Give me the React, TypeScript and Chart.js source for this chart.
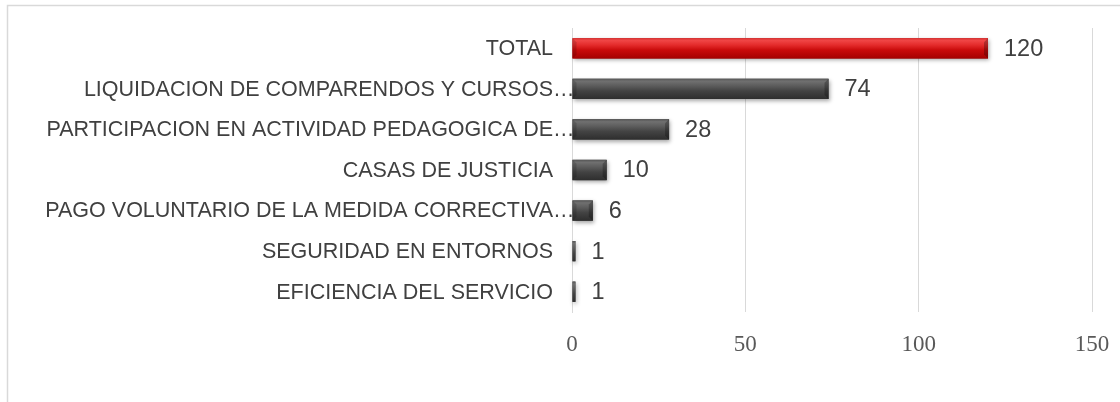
import { useEffect, useRef } from "react";
import { Chart, registerables } from "chart.js";
Chart.register(...registerables);

const categories = [
  "TOTAL",
  "LIQUIDACION DE COMPARENDOS Y CURSOS…",
  "PARTICIPACION EN ACTIVIDAD PEDAGOGICA DE…",
  "CASAS DE JUSTICIA",
  "PAGO VOLUNTARIO DE LA MEDIDA CORRECTIVA…",
  "SEGURIDAD EN ENTORNOS",
  "EFICIENCIA DEL SERVICIO",
];
const values = [120, 74, 28, 10, 6, 1, 1];
const barKinds = ["red", "dark", "dark", "dark", "dark", "dark", "dark"];
const xMin = 0;
const xMax = 150;
const xStep = 50;

const baseColors: Record<string, string> = { red: "#c00000", dark: "#404040" };
const gradStops: Record<string, [number, string][]> = {
  red: [
    [0, "#d83434"],
    [0.12, "#f04545"],
    [0.35, "#e32a2a"],
    [0.6, "#c80a0a"],
    [1, "#a50000"],
  ],
  dark: [
    [0, "#555555"],
    [0.12, "#707070"],
    [0.35, "#5c5c5c"],
    [0.6, "#434343"],
    [1, "#2e2e2e"],
  ],
};

const CAT_FONT = "21.5px 'Liberation Sans', Arial, sans-serif";
const VAL_FONT = "23.5px 'Liberation Sans', Arial, sans-serif";

const framePlugin = {
  id: "frame",
  beforeDraw(chart: any) {
    const ctx = chart.ctx;
    ctx.save();
    ctx.strokeStyle = "#d9d9d9";
    ctx.lineWidth = 1.5;
    ctx.beginPath();
    ctx.moveTo(7.5, chart.height);
    ctx.lineTo(7.5, 5.5);
    ctx.lineTo(chart.width, 5.5);
    ctx.stroke();
    ctx.restore();
  },
};

const barStylePlugin = {
  id: "barStyle",
  afterDatasetsDraw(chart: any) {
    const ctx = chart.ctx;
    const meta = chart.getDatasetMeta(0);
    meta.data.forEach((el: any, i: number) => {
      const { x, y, base, height } = el.getProps(["x", "y", "base", "height"], true);
      const left = Math.min(x, base);
      const w = Math.abs(x - base);
      const top = y - height / 2;
      const g = ctx.createLinearGradient(0, top, 0, top + height);
      gradStops[barKinds[i]].forEach(([o, c]) => g.addColorStop(o, c));
      ctx.save();
      ctx.shadowColor = "rgba(0,0,0,0.35)";
      ctx.shadowBlur = 4;
      ctx.shadowOffsetX = 1;
      ctx.shadowOffsetY = 2;
      ctx.fillStyle = g;
      ctx.fillRect(left, top, w, height);
      ctx.restore();
      if (w > 8) {
        ctx.save();
        ctx.fillStyle = "rgba(0,0,0,0.25)";
        ctx.beginPath();
        ctx.moveTo(left + w, top);
        ctx.lineTo(left + w - 4, top + 4);
        ctx.lineTo(left + w - 4, top + height - 4);
        ctx.lineTo(left + w, top + height);
        ctx.closePath();
        ctx.fill();
        ctx.beginPath();
        ctx.moveTo(left, top);
        ctx.lineTo(left + 4, top + 4);
        ctx.lineTo(left + 4, top + height - 4);
        ctx.lineTo(left, top + height);
        ctx.closePath();
        ctx.fillStyle = "rgba(0,0,0,0.15)";
        ctx.fill();
        ctx.restore();
      }
    });
  },
  afterDraw(chart: any) {
    const ctx = chart.ctx;
    const yScale = chart.scales.y;
    const meta = chart.getDatasetMeta(0);
    ctx.save();
    ctx.textBaseline = "middle";
    ctx.font = CAT_FONT;
    ctx.fillStyle = "#404040";
    const anchor = yScale.right - 19;
    categories.forEach((lab, i) => {
      const yy = yScale.getPixelForValue(i) + 1;
      if (lab.endsWith("…")) {
        const main = lab.slice(0, -1);
        ctx.textAlign = "right";
        ctx.fillText(main, anchor, yy);
        ctx.textAlign = "left";
        ctx.fillText("…", anchor, yy);
      } else {
        ctx.textAlign = "right";
        ctx.fillText(lab, anchor, yy);
      }
    });
    ctx.font = VAL_FONT;
    ctx.textAlign = "left";
    meta.data.forEach((el: any, i: number) => {
      const { x, y } = el.getProps(["x", "y"], true);
      ctx.fillText(String(values[i]), x + 16, y + 1);
    });
    ctx.restore();
  },
};

export default function App() {
  const ref = useRef<HTMLCanvasElement>(null);
  useEffect(() => {
    if (!ref.current) return;
    const chart = new Chart(ref.current, {
      type: "bar",
      data: {
        labels: categories,
        datasets: [
          {
            data: values,
            backgroundColor: barKinds.map((k) => baseColors[k]),
            borderWidth: 0,
            barPercentage: 0.5,
            categoryPercentage: 1,
          },
        ],
      },
      options: {
        indexAxis: "y",
        animation: false,
        responsive: true,
        maintainAspectRatio: false,
        layout: { padding: { top: 28, right: 28, bottom: 30, left: 0 } },
        plugins: {
          legend: { display: false },
          tooltip: { enabled: false },
          title: { display: false },
        },
        scales: {
          x: {
            min: xMin,
            max: xMax,
            grid: { color: "#d9d9d9", drawTicks: false, lineWidth: 1 },
            border: { display: false },
            ticks: {
              stepSize: xStep,
              padding: 19,
              color: "#595959",
              font: { family: "'Liberation Serif', 'DejaVu Serif', serif", size: 23 },
            },
            afterFit: (s: any) => {
              s.height = 60;
              s.paddingRight = 0;
              s.paddingLeft = 0;
            },
          },
          y: {
            grid: { display: false, drawTicks: false },
            border: { display: true, color: "#d9d9d9", width: 1 },
            ticks: { display: false },
            afterFit: (s: any) => {
              s.width = 572;
            },
          },
        },
      },
      plugins: [framePlugin, barStylePlugin],
    });
    return () => chart.destroy();
  }, []);
  return (
    <div style={{ position: "absolute", left: 0, top: 0, width: 1120, height: 402, background: "#fff" }}>
      <canvas ref={ref} />
    </div>
  );
}
